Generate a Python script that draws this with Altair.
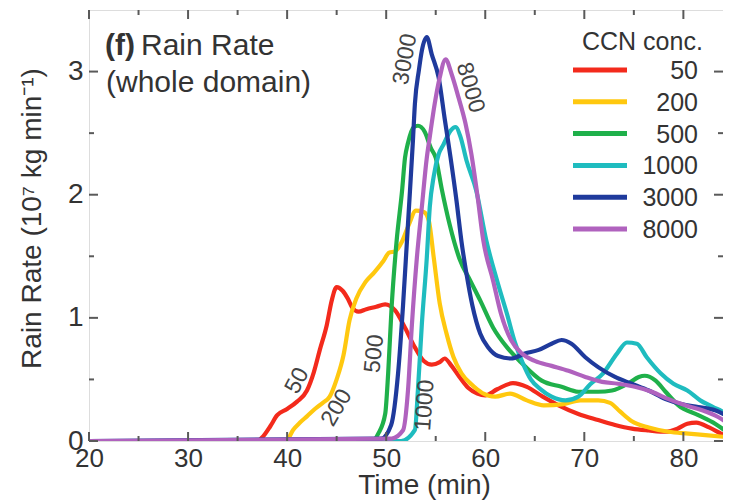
import altair as alt
import pandas as pd

# ---------------- data ----------------
ccn_labels = ["50", "200", "500", "1000", "3000", "8000"]
ccn_colors = ["#f32a1c", "#ffc80f", "#1fb04a", "#1fbcbf", "#1f3a9c", "#b062be"]

t_50 = [20, 37.0, 37.6, 38.3, 39.0, 40.0, 41.0, 42.0, 42.7, 43.3, 44.0, 44.5, 45.0, 45.6, 46.1, 46.6, 47.2,
        48.0, 49.0, 49.9, 50.9, 51.9, 52.9, 53.8, 54.6, 55.4, 55.9, 56.6, 57.4, 58.3, 59.2, 60.0, 61.2, 62.8,
        64.2, 65.8, 67.4, 69.4, 71.4, 73.1, 74.8, 76.5, 78.2, 79.4, 80.4, 81.3, 82.6, 83.8, 84.6]
r_50 = [0, 0, 0.04, 0.12, 0.21, 0.26, 0.32, 0.41, 0.56, 0.74, 0.94, 1.14, 1.25, 1.22, 1.16, 1.08, 1.05,
        1.07, 1.09, 1.11, 1.06, 0.92, 0.76, 0.65, 0.62, 0.64, 0.67, 0.61, 0.52, 0.43, 0.385, 0.37, 0.42, 0.47,
        0.44, 0.36, 0.29, 0.22, 0.17, 0.13, 0.10, 0.085, 0.075, 0.10, 0.14, 0.15, 0.11, 0.06, 0.03]

t_200 = [20, 39.9, 40.6, 41.3, 42.0, 42.8, 43.6, 44.3, 45.0, 45.7, 46.3, 47.0, 47.9, 48.8, 49.7, 50.3, 50.9,
         51.6, 52.3, 53.0, 53.8, 54.3, 54.8, 55.4, 56.1, 56.8, 57.6, 58.6, 59.7, 61.0, 62.5, 64.2, 65.9, 67.9,
         69.6, 71.4, 72.6, 73.6, 74.8, 76.5, 78.5, 80.5, 82.5, 84.6]
r_200 = [0, 0, 0.09, 0.15, 0.20, 0.26, 0.31, 0.36, 0.50, 0.70, 0.98, 1.16, 1.29, 1.37, 1.46, 1.53, 1.54,
         1.62, 1.76, 1.87, 1.86, 1.79, 1.49, 1.12, 0.87, 0.68, 0.55, 0.46, 0.39, 0.36, 0.385, 0.33, 0.29, 0.30,
         0.33, 0.33, 0.31, 0.24, 0.16, 0.11, 0.075, 0.06, 0.046, 0.03]

t_500 = [20, 48.6, 49.2, 49.9, 50.2, 50.55, 51.06, 51.6, 51.9, 52.2, 52.8, 53.2, 53.9, 54.5, 55.0, 55.6,
         56.4, 57.4, 58.5, 59.5, 60.8, 62.2, 63.6, 65.7, 67.7, 69.4, 71.4, 72.8, 74.5, 75.5, 76.1, 77.2, 78.2,
         79.5, 81.5, 83.2, 84.6]
r_500 = [0, 0, 0.06, 0.22, 0.55, 1.09, 1.63, 2.03, 2.30, 2.42, 2.55, 2.56, 2.51, 2.38, 2.30, 2.05,
         1.76, 1.48, 1.30, 1.14, 0.92, 0.76, 0.64, 0.49, 0.44, 0.40, 0.40, 0.41, 0.47, 0.52, 0.53, 0.49, 0.40,
         0.29, 0.21, 0.14, 0.06]

t_1000 = [20, 51.5, 52.9, 53.2, 53.6, 54.1, 54.4, 54.8, 55.3, 55.8, 56.5, 57.0, 57.5, 58.1, 59.1, 60.1,
          61.2, 62.2, 63.0, 63.8, 64.6, 65.6, 66.7, 68.1, 69.4, 70.6, 71.9, 73.3, 74.3, 75.3, 76.3, 77.7, 79.0,
          80.4, 81.7, 83.0, 84.2, 84.6]
r_1000 = [0, 0, 0.09, 0.41, 0.95, 1.49, 1.90, 2.15, 2.33, 2.41, 2.52, 2.55, 2.47, 2.28, 2.03, 1.63,
          1.30, 1.03, 0.80, 0.63, 0.50, 0.42, 0.36, 0.33, 0.36, 0.46, 0.55, 0.71, 0.80, 0.79, 0.68, 0.55, 0.465,
          0.41, 0.33, 0.276, 0.22, 0.12]

t_3000 = [20, 49.5, 50.5, 51.2, 51.7, 52.1, 52.4, 52.7, 52.9, 53.3, 53.6, 54.1, 54.6, 55.3, 55.9, 56.5,
          57.1, 57.6, 58.1, 58.7, 59.5, 60.3, 61.3, 62.6, 64.0, 65.4, 66.7, 67.7, 68.7, 70.1, 71.4, 73.1, 74.8,
          76.5, 78.2, 79.8, 81.5, 83.2, 84.6]
r_3000 = [0, 0.02, 0.13, 0.55, 1.10, 1.63, 2.03, 2.44, 2.74, 3.01, 3.17, 3.28, 3.14, 2.95, 2.62, 2.30,
          1.95, 1.62, 1.36, 1.10, 0.87, 0.76, 0.69, 0.67, 0.71, 0.74, 0.79, 0.82, 0.79, 0.68, 0.60, 0.52, 0.465,
          0.41, 0.34, 0.30, 0.276, 0.25, 0.195]

t_8000 = [20, 50.55, 51.7, 52.2, 52.6, 53.1, 53.6, 54.1, 54.4, 54.9, 55.4, 56.0, 56.6, 57.3, 58.0, 58.6,
          59.2, 59.8, 60.8, 61.6, 62.6, 63.7, 65.0, 66.7, 68.4, 70.1, 71.8, 73.4, 75.1, 76.8, 78.5, 80.2, 81.9,
          83.5, 84.6]
r_8000 = [0, 0.02, 0.087, 0.41, 0.95, 1.49, 1.90, 2.30, 2.47, 2.74, 2.95, 3.10, 2.98, 2.79, 2.58, 2.33,
          2.00, 1.63, 1.30, 1.03, 0.82, 0.71, 0.65, 0.61, 0.57, 0.52, 0.48, 0.465, 0.44, 0.40, 0.34, 0.29, 0.25,
          0.195, 0.14]

series_t = [t_50, t_200, t_500, t_1000, t_3000, t_8000]
series_r = [r_50, r_200, r_500, r_1000, r_3000, r_8000]

x_major = [20, 30, 40, 50, 60, 70, 80]
x_minor = [25, 35, 45, 55, 65, 75]
y_major = [0, 1, 2, 3]
y_minor = [0.5, 1.5, 2.5]

panel_tag = "(f)"
panel_title = "Rain Rate"
panel_sub = "(whole domain)"
legend_title = "CCN conc."
x_title = "Time (min)"
y_title = "Rain Rate (10\u2077 kg min\u207b\u00b9)"

# curve annotations: label, time, rate, angle
annotations = [
    ("50", 41.0, 0.49, 298),
    ("200", 45.0, 0.27, 300),
    ("500", 48.8, 0.71, 276),
    ("1000", 53.9, 0.29, 274),
    ("3000", 51.9, 3.10, 280),
    ("8000", 58.5, 2.87, 74),
]

# ---------------- build ----------------
rows = []
for i, (lab, ts, rs) in enumerate(zip(ccn_labels, series_t, series_r)):
    for t, r in zip(ts, rs):
        rows.append({"ccn": lab, "t": t, "rate": r, "k": i})
df = pd.DataFrame(rows)

W, H = 634, 431
FONT = "Liberation Sans"
TXT = "#333333"
FRAME = "#5a5a5a"

xscale = alt.Scale(domain=[20, 84.0], nice=False, zero=False)
yscale = alt.Scale(domain=[0, 3.5], nice=False, zero=False)
cscale = alt.Scale(domain=ccn_labels, range=ccn_colors)

x_axis = alt.Axis(
    values=x_major, ticks=False, tickSize=0, domain=False, grid=False, labelFlush=False,
    labelFontSize=26, labelPadding=25, labelBaseline="alphabetic", labelColor=TXT, labelFont=FONT,
    title=x_title, titleFontSize=28, titleFontWeight="normal", titleColor=TXT, titleFont=FONT,
    titleX=335, titleY=52, titleBaseline="alphabetic", titleAlign="center")


def X(field):
    return alt.X(field, scale=xscale, axis=x_axis)


lines = alt.Chart(df).mark_line(strokeWidth=4.2, interpolate="monotone", clip=True).encode(
    x=X("t:Q"),
    y=alt.Y("rate:Q", scale=yscale, axis=alt.Axis(
        values=y_major, ticks=False, tickSize=0, domain=False, grid=False, labelFlush=False,
        labelFontSize=28, labelPadding=6, labelColor=TXT, labelFont=FONT,
        title=y_title, titleFontSize=28, titleFontWeight="normal", titleColor=TXT, titleFont=FONT,
        titleX=-49, titleY=208, titleBaseline="alphabetic", titleAlign="center", titleAngle=270)),
    color=alt.Color("ccn:N", scale=cscale, legend=None),
    order=alt.Order("k:Q"),
)


def xticks(vals, length, top):
    d = pd.DataFrame({"t": vals})
    if top:
        return alt.Chart(d).mark_rule(color=FRAME, strokeWidth=2).encode(
            x=X("t:Q"), y=alt.value(0), y2=alt.value(length))
    return alt.Chart(d).mark_rule(color=FRAME, strokeWidth=2).encode(
        x=X("t:Q"), y=alt.value(H), y2=alt.value(H - length))


def yticks(vals, length, right):
    d = pd.DataFrame({"v": vals})
    if right:
        return alt.Chart(d).mark_rule(color=FRAME, strokeWidth=2).encode(
            y=alt.Y("v:Q", scale=yscale, axis=None), x=alt.value(W), x2=alt.value(W - length))
    return alt.Chart(d).mark_rule(color=FRAME, strokeWidth=2).encode(
        y=alt.Y("v:Q", scale=yscale, axis=None), x=alt.value(0), x2=alt.value(length))


ticks = [xticks(x_major, 9, False), xticks(x_minor, 5, False), xticks(x_major, 9, True), xticks(x_minor, 5, True),
         yticks(y_major, 9, False), yticks(y_minor, 5, False), yticks(y_major, 9, True), yticks(y_minor, 5, True)]

ann_layers = []
for lab, t, r, ang in annotations:
    ann_layers.append(
        alt.Chart(pd.DataFrame({"label": [lab], "t": [t], "rate": [r]})).mark_text(
            angle=ang, fontSize=23, font=FONT, color="#444444", align="center", baseline="middle").encode(
            x=X("t:Q"), y=alt.Y("rate:Q", scale=yscale, axis=None), text="label:N"))


def label(txt, x, y, size, bold=False, align="left"):
    return alt.Chart(pd.DataFrame({"s": [txt]})).mark_text(
        fontSize=size, font=FONT, color=TXT, align=align, baseline="alphabetic",
        fontWeight="bold" if bold else "normal").encode(x=alt.value(x), y=alt.value(y), text="s:N")


titles = [label(panel_tag, 16, 45, 30, bold=True), label(panel_title, 52, 45, 30),
          label(panel_sub, 17, 82, 30), label(legend_title, 493, 40, 25)]

leg_df = pd.DataFrame({"ccn": ccn_labels, "idx": list(range(len(ccn_labels)))})
leg_y = alt.Scale(domain=[0, 5], range=[60, 219])
leg_lines = alt.Chart(leg_df).mark_rule(strokeWidth=5).encode(
    y=alt.Y("idx:Q", scale=leg_y, axis=None), x=alt.value(484), x2=alt.value(538),
    color=alt.Color("ccn:N", scale=cscale, legend=None))
leg_text = alt.Chart(leg_df).mark_text(fontSize=25, font=FONT, color=TXT, align="right", baseline="middle",
                                       dy=1).encode(
    y=alt.Y("idx:Q", scale=leg_y, axis=None), x=alt.value(609), text="ccn:N")

chart = alt.layer(lines, *ticks, *ann_layers, *titles, leg_lines, leg_text).resolve_scale(
    y="independent").properties(
    width=W, height=H,
    padding={"left": 81, "top": 2, "right": 0, "bottom": 59},
    autosize=alt.AutoSizeParams(type="none"),
).configure_view(stroke=FRAME, strokeWidth=2.5).configure(background="white")

chart.save("out.html", embed_options={"renderer": "svg", "actions": False})
